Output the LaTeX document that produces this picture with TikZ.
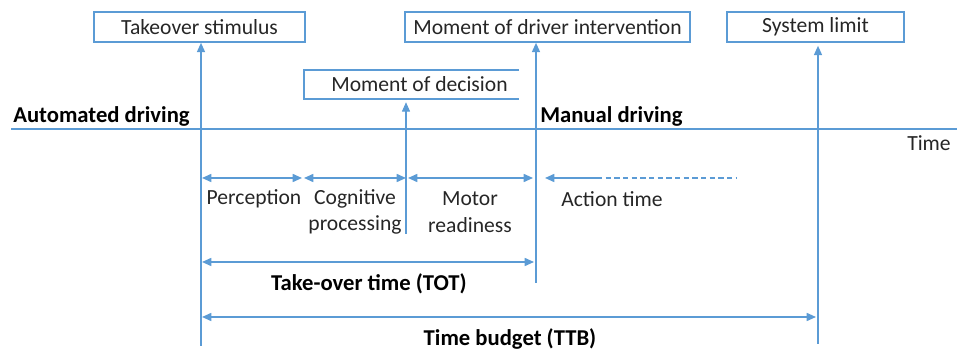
\documentclass[tikz,border=0pt]{standalone}
\usepackage{fontspec}
\setmainfont{Carlito}
\usetikzlibrary{calc, arrows.meta}
\definecolor{lineblue}{RGB}{91,155,213}
\definecolor{txtgray}{RGB}{38,38,38}
\tikzset{
  tbox/.style={draw=lineblue, line width=1.2pt, minimum height=22.5pt, inner sep=0pt, text=txtgray},
  lbl/.style={text=txtgray, inner sep=0pt, align=center},
  blbl/.style={text=black, inner sep=0pt, font=\fontsize{17}{20}\selectfont\bfseries},
  up/.style={draw=lineblue, line width=1.2pt, -{Triangle[length=7pt,width=6pt]}},
  dim/.style={draw=lineblue, line width=1.2pt, {Triangle[length=7pt,width=6pt]}-{Triangle[length=7pt,width=6pt]}}
}
\begin{document}
\begin{tikzpicture}[x=0.75pt,y=-0.75pt,font=\fontsize{16.2}{20}\selectfont]
                \useasboundingbox (0,0) rectangle (957,352);
                % boxes on top
                \node[tbox, minimum width=158pt] (stim) at (199.5,27) {Takeover stimulus};
                \node[tbox, minimum width=214pt] (interv) at (547.5,27) {Moment of driver intervention};
                \node[tbox, minimum width=133pt] (limit) at (815.5,27) {System limit};
                \node[minimum width=161pt, minimum height=21.75pt, inner sep=0pt, text=txtgray] (dec) at (411.5,84.5) {\hspace{12pt}Moment of decision};
                \draw[draw=lineblue, line width=1.2pt] (dec.north east) -- (dec.north west) -- (dec.south west) -- (dec.south east);
                % time axis
                \coordinate (axL) at (11,129);
                \coordinate (axR) at (957,129);
                \draw[draw=lineblue, line width=1.2pt] (axL) -- (axR);
                \node[lbl] (time) at (929,143) {Time};
                \node[blbl, anchor=west] (auto) at (13,116) {Automated driving};
                \node[blbl, anchor=west] (manual) at (540,116) {Manual driving};
                % vertical markers
                \coordinate (stimfoot) at (201,346);
                \coordinate (decfoot) at (406,234);
                \coordinate (intfoot) at (536,283);
                \coordinate (limfoot) at (818,344);
                \draw[up] (stimfoot) -- (stimfoot |- stim.south);
                \draw[up, line width=0.8pt] (decfoot) -- ($(decfoot |- dec.south)+(0,3)$);
                \draw[up] (intfoot) -- (intfoot |- interv.south);
                \draw[up] (limfoot) -- ($(limfoot |- limit.south)+(0,3)$);
                % phases
                \coordinate (perL) at (202,178);
                \coordinate (perR) at (302,178);
                \coordinate (cogL) at (304,178);
                \coordinate (cogR) at (406,178);
                \coordinate (motL) at (408,178);
                \coordinate (motR) at (533,178);
                \coordinate (actL) at (545,178);
                \coordinate (actM) at (597,178);
                \coordinate (actR) at (737,178);
                \draw[dim] (perL) -- (perR);
                \draw[dim] (cogL) -- (cogR);
                \draw[dim] (motL) -- (motR);
                \draw[up] (actM) -- (actL);
                \draw[draw=lineblue, line width=0.9pt, dash pattern=on 4pt off 2.5pt] (actM) -- (actR);
                \node[lbl] (perc) at (254,199) {Perception};
                \node[lbl] (cog) at (355,212) {Cognitive\\processing};
                \node[lbl] (mot) at (470,212) {Motor\\readiness};
                \node[lbl] (act) at (612,199) {Action time};
                % TOT and TTB
                \coordinate (totL) at (202,262);
                \coordinate (totR) at (534,262);
                \coordinate (ttbL) at (202,317);
                \coordinate (ttbR) at (816,317);
                \draw[dim] (totL) -- (totR);
                \draw[dim] (ttbL) -- (ttbR);
                \node[blbl] (tot) at (369,284) {Take-over time (TOT)};
                \node[blbl] (ttb) at (510,339) {Time budget (TTB)};
            \end{tikzpicture}
\end{document}
